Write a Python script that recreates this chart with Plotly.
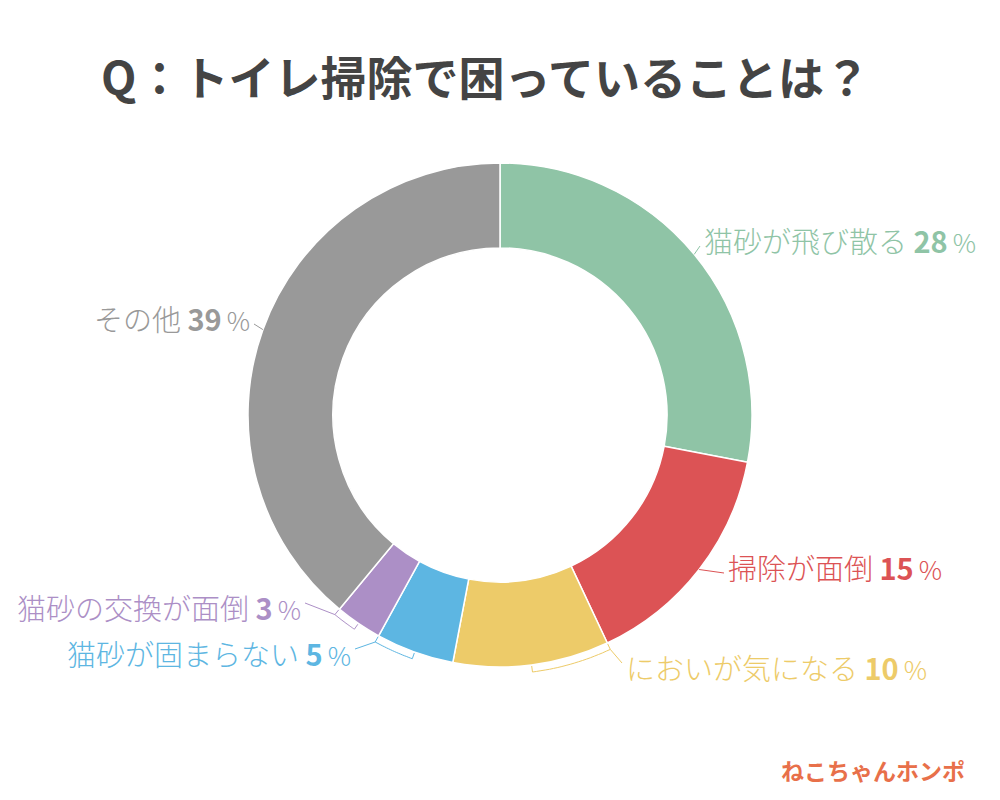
import numpy as np
import plotly.graph_objects as go

labels = ["猫砂が飛び散る", "掃除が面倒", "においが気になる", "猫砂が固まらない", "猫砂の交換が面倒", "その他"]
values = [28, 15, 10, 5, 3, 39]
colors = ["#8FC4A6", "#DC5355", "#EDCB69", "#5DB6E2", "#AC8FC6", "#999999"]
label_pos = [(702, 240, "left"), (726, 567, "left"), (624, 667, "left"),
             (353, 653, "right"), (303, 607, "right"), (252, 318, "right")]
bracket = [False, False, True, True, True, False]
title = "Q：トイレ掃除で困っていることは？"
brand = "ねこちゃんホンポ"

W, H = 1000, 800
CX, CY, R = 500, 415, 252
HOLE = 0.663
FONT = "Noto Sans CJK JP"

fig = go.Figure()
fig.add_trace(go.Pie(
    values=values, labels=labels, sort=False, direction="clockwise", rotation=0,
    hole=HOLE, textinfo="none", hoverinfo="label+percent",
    marker=dict(colors=colors, line=dict(color="white", width=1.5)),
    domain=dict(x=[(CX - R) / W, (CX + R) / W], y=[1 - (CY + R) / H, 1 - (CY - R) / H]),
    showlegend=False,
))

def pt(frac, r):
    ang = np.deg2rad(90 - frac * 360)
    return CX + r * np.cos(ang), CY - r * np.sin(ang)

total = sum(values)
cum = np.cumsum([0] + values) / total
shapes = []
annotations = []
for i, (lab, v, col) in enumerate(zip(labels, values, colors)):
    start, end = cum[i], cum[i + 1]
    mid = (start + end) / 2
    lx, ly, anc = label_pos[i]
    edge = lx - 2 if anc == "left" else lx + 2
    if bracket[i]:
        far = start if anc == "left" else end
        fr = np.linspace(mid, far, 20)
        pts = [pt(mid, R + 1)] + [pt(f, R + 7) for f in fr] + [pt(far, R + 1)]
        ex, ey = pt(far, R + 7)
        pts_line = [(ex, ey), (edge, ly - 4)]
        path = "M " + " L ".join(f"{x:.1f},{y:.1f}" for x, y in pts)
        shapes.append(dict(type="path", path=path, xref="x", yref="y",
                           line=dict(color=col, width=1)))
        path2 = "M " + " L ".join(f"{x:.1f},{y:.1f}" for x, y in pts_line)
        shapes.append(dict(type="path", path=path2, xref="x", yref="y",
                           line=dict(color=col, width=1)))
    else:
        sx, sy = pt(mid, R)
        path = f"M {sx:.1f},{sy:.1f} L {edge:.1f},{ly + 6:.1f}"
        shapes.append(dict(type="path", path=path, xref="x", yref="y",
                           line=dict(color=col, width=1)))
    txt = (f"{lab} <b>{v}</b><span style='font-size:26px'>\u2009%</span>")
    annotations.append(dict(x=lx, y=ly, xref="x", yref="y", text=txt, showarrow=False,
                            xanchor=anc, yanchor="middle",
                            font=dict(family=FONT, size=29, color=col, weight=300)))

annotations.append(dict(x=485, y=75, xref="x", yref="y", text=f"<b>{title}</b>",
                        showarrow=False, xanchor="center", yanchor="middle",
                        font=dict(family=FONT, size=46, color="#444444")))
annotations.append(dict(x=967, y=770, xref="x", yref="y", text=f"<b>{brand}</b>",
                        showarrow=False, xanchor="right", yanchor="middle",
                        font=dict(family=FONT, size=23, color="#E8704A")))

fig.update_layout(
    width=W, height=H, margin=dict(l=0, r=0, t=0, b=0),
    paper_bgcolor="white", plot_bgcolor="rgba(0,0,0,0)",
    xaxis=dict(range=[0, W], visible=False, domain=[0, 1], fixedrange=True),
    yaxis=dict(range=[H, 0], visible=False, domain=[0, 1], fixedrange=True),
    shapes=shapes, annotations=annotations,
)
fig.write_html("out.html")
